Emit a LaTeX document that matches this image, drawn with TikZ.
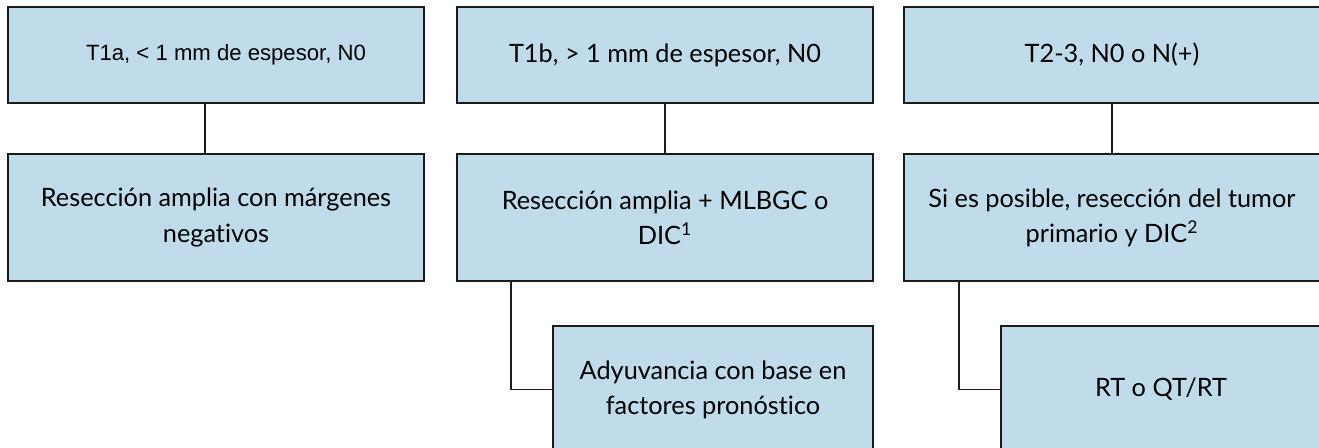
\documentclass[tikz,border=0pt]{standalone}
\usepackage{fontspec}
\setmainfont{Lato}[Ligatures=NoCommon]
\newfontfamily\arialfont{Liberation Sans}
\usepackage{xcolor}
\usetikzlibrary{calc}
\definecolor{boxfill}{HTML}{C0DCEA}
\definecolor{edge}{HTML}{1A1A1A}
\tikzset{
  box/.style={draw=edge, fill=boxfill, line width=1.1pt, align=center,
    minimum width=8.32cm, inner sep=0pt, font=\fontsize{14.4}{20}\selectfont},
  headbox/.style={box, minimum height=1.92cm},
  stepbox/.style={box, minimum height=2.54cm},
  smallbox/.style={box, minimum width=6.4cm, minimum height=2.54cm},
  link/.style={draw=edge, line width=0.8pt},
}
\begin{document}
\begin{tikzpicture}[x=0.02cm, y=-0.02cm]
  \useasboundingbox (0,0) rectangle (1319,448);
  \clip (0,0) rectangle (1319,448);

  % first row
  \node[headbox] (t1a) at (216,55) {\hspace*{0.4cm}\arialfont\fontsize{12.6}{18}\selectfont T1a, < 1 mm de espesor, N0};
  \node[headbox] (t1b) at (665,55) {T1b, > 1 mm de espesor, N0};
  \node[headbox] (t23) at (1112,55) {T2-3, N0 o N(+)};

  % second row
  \node[stepbox] (res1) at (216,217.5) {Resección amplia con márgenes\\negativos};
  \node[stepbox] (res2) at (665,217.5) {Resección amplia + MLBGC o\\DIC\textsuperscript{1}};
  \node[stepbox] (res3) at (1112,217.5) {Si es posible, resección del tumor\\primario y DIC\textsuperscript{2}};

  % third row
  \node[smallbox] (adj) at (713,389.5) {Adyuvancia con base en\\factores pronóstico};
  \node[smallbox] (rtqt) at (1161,389.5) {RT o QT/RT};

  % connectors
  \draw[link] ([xshift=-0.22cm]t1a.south) -- ([xshift=-0.22cm]res1.north);
  \draw[link] (t1b.south) -- (res2.north);
  \draw[link] (t23.south) -- (res3.north);
  \draw[link] ([xshift=1.1cm]res2.south west) |- (adj.west);
  \draw[link] ([xshift=1.12cm]res3.south west) |- (rtqt.west);
\end{tikzpicture}
\end{document}
